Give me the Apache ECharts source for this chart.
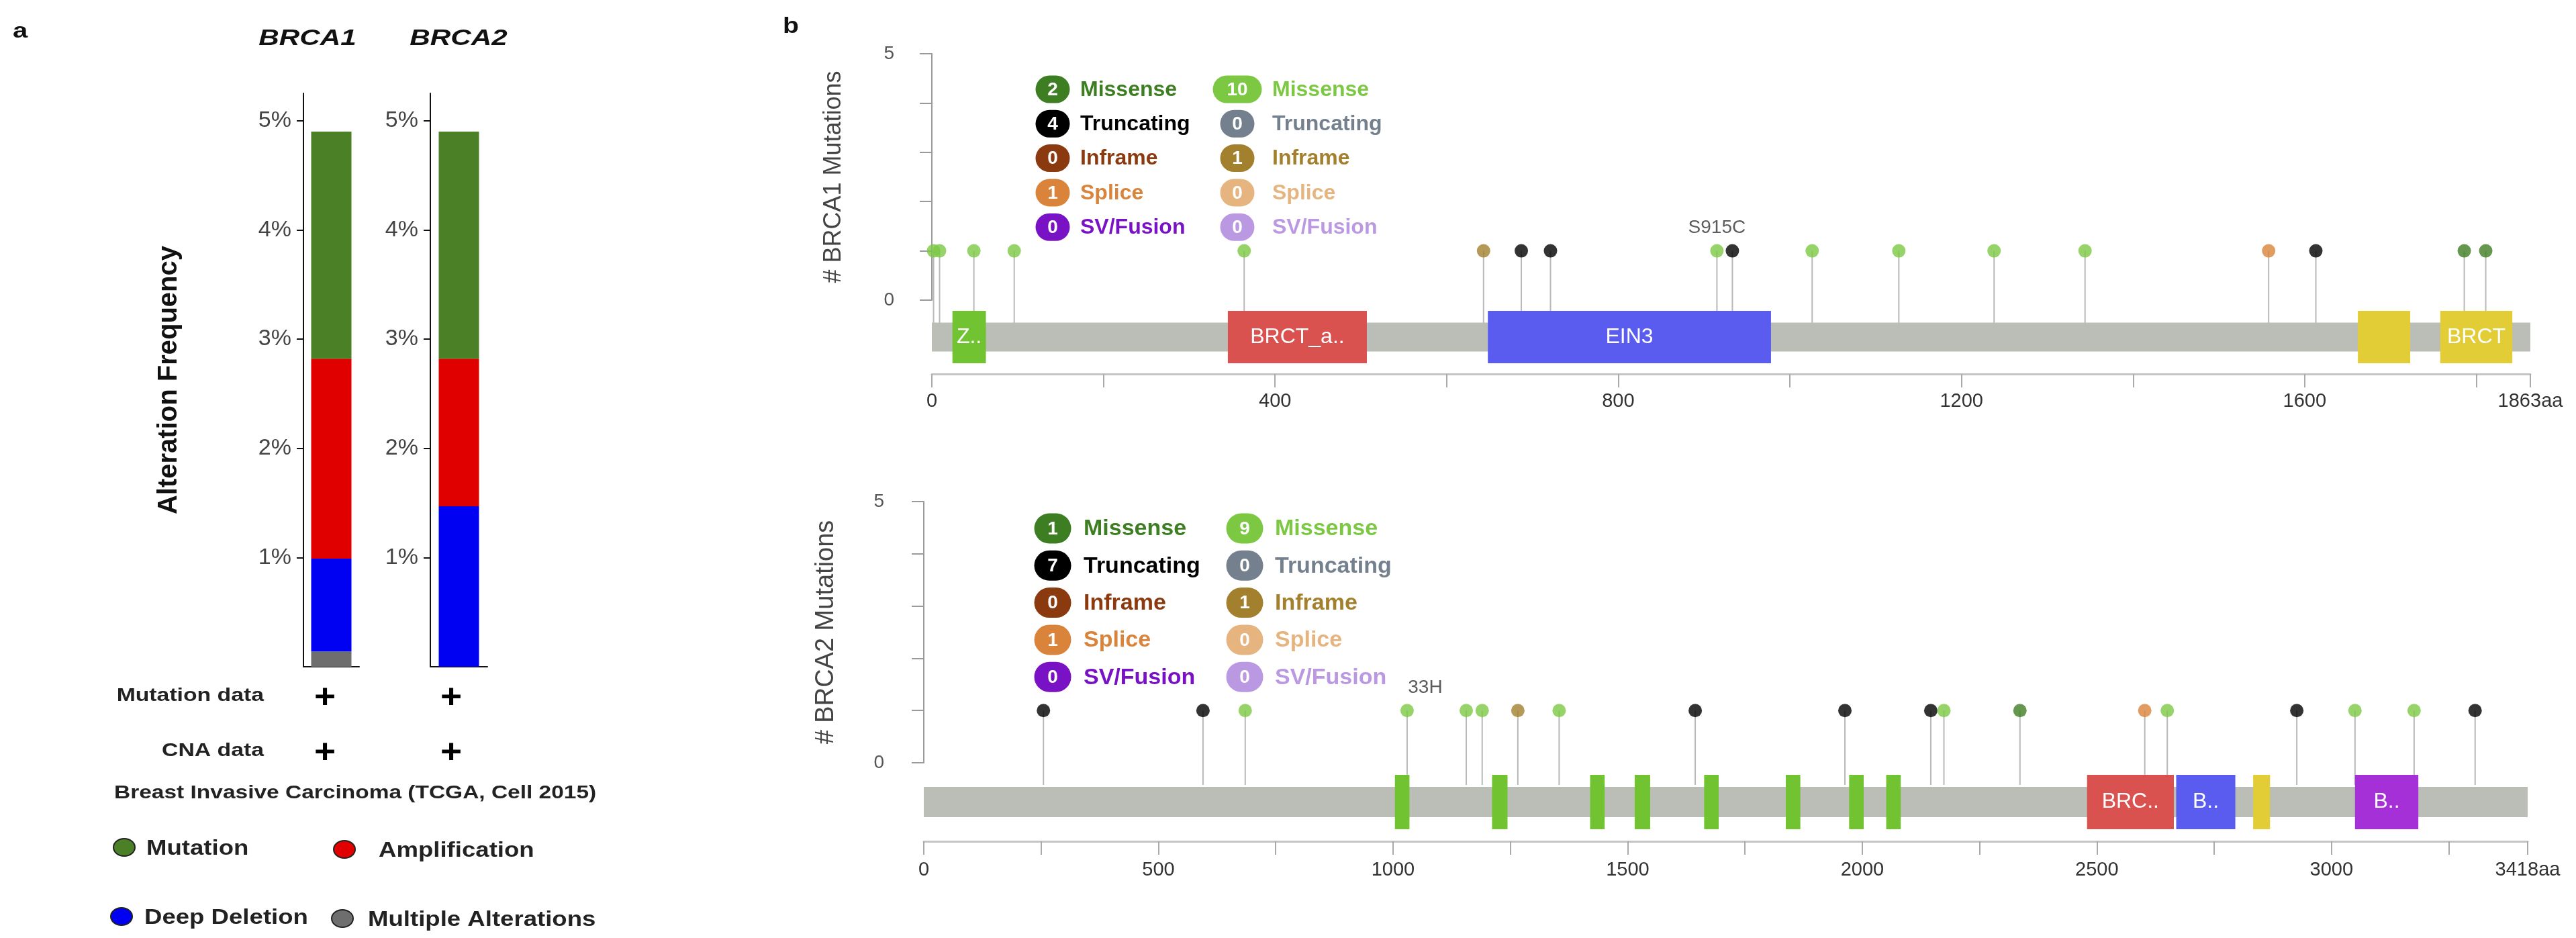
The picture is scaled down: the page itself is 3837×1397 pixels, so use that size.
<!DOCTYPE html>
<html><head><meta charset="utf-8">
<script src="https://cdn.jsdelivr.net/npm/echarts@6/dist/echarts.min.js"></script>
<style>html,body{margin:0;padding:0;background:#fff;overflow:hidden}#c{width:3837px;height:1397px}</style>
</head><body><div id="c"></div>
<script>
// ---------- Panel a data ----------
const genes = ['BRCA1', 'BRCA2'];
const multipleAlterations = [0.14, 0];
const deepDeletion = [0.85, 1.47];
const amplification = [1.83, 1.35];
const mutationFreq = [2.08, 2.08];
const freqTickValues = [1, 2, 3, 4, 5];
const rowLabels = ['Mutation data', 'CNA data'];
const studyName = 'Breast Invasive Carcinoma (TCGA, Cell 2015)';

// ---------- Panel b data ----------
const brca1Length = 1863;
const brca2Length = 3418;
// [position (aa), count, type]
const brca1Mutations = [
  [2, 1, 'missense_vus'], [9, 1, 'missense_vus'], [49, 1, 'missense_vus'], [96, 1, 'missense_vus'],
  [364, 1, 'missense_vus'], [643, 1, 'inframe_vus'], [687, 1, 'truncating'], [721, 1, 'truncating'],
  [915, 1, 'missense_vus'], [933, 1, 'truncating'], [1026, 1, 'missense_vus'], [1127, 1, 'missense_vus'],
  [1238, 1, 'missense_vus'], [1344, 1, 'missense_vus'], [1558, 1, 'splice'], [1613, 1, 'truncating'],
  [1786, 1, 'missense'], [1811, 1, 'missense']
];
const brca1Labels = { 915: 'S915C' };
const brca2Mutations = [
  [255, 1, 'truncating'], [595, 1, 'truncating'], [685, 1, 'missense_vus'], [1030, 1, 'missense_vus'],
  [1156, 1, 'missense_vus'], [1190, 1, 'missense_vus'], [1266, 1, 'inframe_vus'], [1354, 1, 'missense_vus'],
  [1644, 1, 'truncating'], [1963, 1, 'truncating'], [2146, 1, 'truncating'], [2174, 1, 'missense_vus'],
  [2336, 1, 'missense'], [2602, 1, 'splice'], [2650, 1, 'missense_vus'], [2926, 1, 'truncating'],
  [3050, 1, 'missense_vus'], [3176, 1, 'missense_vus'], [3306, 1, 'truncating']
];
const brca2Labels = { 1030: '33H' };
// [start, end, shown label, domain kind]
const brca1Domains = [
  [24, 63, 'Z..', 'ring'], [345, 507, 'BRCT_a..', 'brctAssoc'], [648, 978, 'EIN3', 'ein3'],
  [1662, 1723, '', 'brct'], [1758, 1842, 'BRCT', 'brct']
];
const brca2Domains = [
  [1004, 1035, '', 'repeat'], [1211, 1244, '', 'repeat'], [1420, 1451, '', 'repeat'], [1515, 1548, '', 'repeat'],
  [1663, 1694, '', 'repeat'], [1837, 1868, '', 'repeat'], [1972, 2003, '', 'repeat'], [2051, 2082, '', 'repeat'],
  [2479, 2664, 'BRC..', 'helical'], [2669, 2795, 'B..', 'ob1'], [2833, 2869, '', 'tower'], [3050, 3185, 'B..', 'ob3']
];
const legendKinds = ['missense', 'truncating', 'inframe', 'splice', 'fusion'];
const legendNames = ['Missense', 'Truncating', 'Inframe', 'Splice', 'SV/Fusion'];

// ---------- styles ----------
const FONT = '"Liberation Sans", Arial, Helvetica, sans-serif';
const driverColors = { missense: '#3E7E22', truncating: '#000000', inframe: '#8B3A10', splice: '#D9843A', fusion: '#7812C4' };
const vusColors = { missense: '#7CC843', truncating: '#74808D', inframe: '#A3802E', splice: '#E5B47F', fusion: '#BB98E2' };
const domainColors = { ring: '#72C331', brctAssoc: '#D9524F', ein3: '#5A5CF0', brct: '#E3CD37',
  repeat: '#72C331', helical: '#D9524F', ob1: '#5A5CF0', tower: '#E3CD37', ob3: '#A530D8' };
const colorOf = t => t.endsWith('_vus') ? vusColors[t.replace('_vus', '')] : driverColors[t];
const layerColors = ['#6E6E6E', '#0000F2', '#E00000', '#4B8027'];

const chart = echarts.init(document.getElementById('c'), null, { width: 3837, height: 1397 });

const grids = [], xAxes = [], yAxes = [], series = [], graphics = [];

// ---------- Panel a ----------
const aLayout = [{ left: 452, width: 83 }, { left: 641, width: 85 }];
const layers = [multipleAlterations, deepDeletion, amplification, mutationFreq];
const layerNames = ['Multiple Alterations', 'Deep Deletion', 'Amplification', 'Mutation'];
genes.forEach((g, gi) => {
  grids.push({ left: aLayout[gi].left, width: aLayout[gi].width, top: 139, height: 854, outerBoundsMode: 'none' });
  xAxes.push({ type: 'category', gridIndex: gi, data: [g], axisLine: { lineStyle: { color: '#111', width: 2 } },
    axisTick: { show: false }, axisLabel: { show: false } });
  yAxes.push({ type: 'value', gridIndex: gi, min: 0, max: 5.25,
    name: gi === 0 ? 'Alteration Frequency' : '', nameLocation: 'middle', nameGap: 180,
    nameTextStyle: { fontSize: 40, fontWeight: 'bold', color: '#111', fontFamily: FONT },
    axisLine: { show: true, lineStyle: { color: '#111', width: 2 } },
    axisTick: { show: true, length: 10, customValues: freqTickValues, lineStyle: { color: '#111', width: 2 } },
    axisLabel: { customValues: freqTickValues, formatter: v => v + '%', fontSize: 34, color: '#444', margin: 18, fontFamily: FONT },
    splitLine: { show: false } });
  layers.forEach((arr, li) => series.push({ type: 'bar', name: layerNames[li], xAxisIndex: gi, yAxisIndex: gi,
    stack: 'alt' + gi, data: [arr[gi]], barWidth: 60, itemStyle: { color: layerColors[li] }, silent: true }));
});
function txt(x, y, text, font, fill, align, sx) {
  graphics.push({ type: 'text', x, y, scaleX: sx || 1, silent: true,
    style: { text, font: font + ' ' + FONT, fill, align: align || 'left', verticalAlign: 'middle' } });
}
txt(30, 47, 'a', 'bold 32px', '#111', 'center', 1.25);
txt(458, 58, 'BRCA1', 'italic bold 33px', '#111', 'center', 1.28);
txt(683, 58, 'BRCA2', 'italic bold 33px', '#111', 'center', 1.28);
txt(393, 1037, rowLabels[0], 'bold 27px', '#222', 'right', 1.25);
txt(393, 1119, rowLabels[1], 'bold 27px', '#222', 'right', 1.25);
[484, 672].forEach(x => { txt(x, 1040, '+', 'bold 50px', '#000', 'center', 1.1); txt(x, 1122, '+', 'bold 50px', '#000', 'center', 1.1); });
txt(170, 1182, studyName, 'bold 27px', '#222', 'left', 1.24);
const aLegend = [
  { cx: 185, cy: 1262, tx: 218, name: 'Mutation', color: layerColors[3] },
  { cx: 513, cy: 1265, tx: 564, name: 'Amplification', color: layerColors[2] },
  { cx: 181, cy: 1365, tx: 215, name: 'Deep Deletion', color: layerColors[1] },
  { cx: 510, cy: 1368, tx: 548, name: 'Multiple Alterations', color: layerColors[0] }
];
aLegend.forEach(l => {
  graphics.push({ type: 'ellipse', silent: true, shape: { cx: l.cx, cy: l.cy, rx: 16, ry: 13 },
    style: { fill: l.color, stroke: '#222', lineWidth: 2 } });
  txt(l.tx, l.cy + 2, l.name, 'bold 31px', '#222', 'left', 1.18);
});

// ---------- Panel b ----------
txt(1178, 40, 'b', 'bold 34px', '#111', 'center', 1.15);
const panels = [
  { gene: 'BRCA1', length: brca1Length, muts: brca1Mutations, labels: brca1Labels, domains: brca1Domains,
    tickStep: 200, labelStep: 400,
    L: { left: 1388, right: 68, top: 80, plotH: 367, trackH: 110, axisOffset: 30, nameGap: 98, nameSize: 36, yMargin: 26, xMargin: 26,
      barH: 43, domH: 78, stemDrop: 34,
      lg: { x1: 1568, t1: 1609, x2: 1843, t2: 1895, y0: 133, dy: 51.3, bh: 41, font: 32 } } },
  { gene: 'BRCA2', length: brca2Length, muts: brca2Mutations, labels: brca2Labels, domains: brca2Domains,
    tickStep: 250, labelStep: 500,
    L: { left: 1376, right: 72, top: 747, plotH: 389, trackH: 117, axisOffset: 29, nameGap: 97, nameSize: 38, yMargin: 30, xMargin: 28,
      barH: 45, domH: 81, stemDrop: 33,
      lg: { x1: 1568, t1: 1614, x2: 1854, t2: 1899, y0: 787, dy: 55.3, bh: 45, font: 34 } } }
];
panels.forEach(p => {
  const L = p.L;
  const gPlot = grids.length, gTrack = grids.length + 1;
  grids.push({ left: L.left, right: L.right, top: L.top, height: L.plotH, outerBoundsMode: 'none' });
  grids.push({ left: L.left, right: L.right, top: L.top + L.plotH, height: L.trackH, outerBoundsMode: 'none' });
  xAxes.push({ type: 'value', gridIndex: gPlot, min: 0, max: p.length, show: false });
  xAxes.push({ type: 'value', gridIndex: gTrack, min: 0, max: p.length, interval: p.tickStep,
    axisLine: { show: true, lineStyle: { color: '#C4C4C4', width: 3 } },
    axisTick: { show: true, length: 20, lineStyle: { color: '#AAAAAA', width: 2 } },
    axisLabel: { showMinLabel: true, showMaxLabel: true, fontSize: 29, color: '#333', margin: L.xMargin, fontFamily: FONT,
      formatter: v => v === p.length ? p.length + 'aa' : (v % p.labelStep === 0 ? String(v) : '') },
    splitLine: { show: false } });
  yAxes.push({ type: 'value', gridIndex: gPlot, min: 0, max: 5, interval: 1, offset: L.axisOffset,
    name: '# ' + p.gene + ' Mutations', nameLocation: 'middle', nameGap: L.nameGap,
    nameTextStyle: { fontSize: L.nameSize, color: '#444', fontFamily: FONT },
    axisLine: { show: true, lineStyle: { color: '#9A9A9A', width: 2 } },
    axisTick: { show: true, length: 18, lineStyle: { color: '#9A9A9A', width: 2 } },
    axisLabel: { fontSize: 28, color: '#555', margin: L.yMargin, fontFamily: FONT,
      formatter: v => (v === 0 || v === 5) ? String(v) : '' },
    splitLine: { show: false } });
  yAxes.push({ type: 'value', gridIndex: gTrack, min: 0, max: 1, show: false });
  const xi = xAxes.length - 2, yi = yAxes.length - 2;

  // stems
  series.push({ type: 'custom', xAxisIndex: xi, yAxisIndex: yi, z: 1, silent: true,
    data: p.muts.map(m => [m[0], m[1]]),
    renderItem: (params, api) => {
      const top = api.coord([api.value(0), api.value(1)]);
      const base = api.coord([api.value(0), 0]);
      return { type: 'line', shape: { x1: top[0], y1: top[1], x2: top[0], y2: base[1] + L.stemDrop },
        style: { stroke: '#B8B8B8', lineWidth: 2 } };
    } });
  // heads
  series.push({ type: 'scatter', xAxisIndex: xi, yAxisIndex: yi, z: 4, symbolSize: 20, silent: true,
    data: p.muts.map(m => ({ value: [m[0], m[1]], itemStyle: { color: colorOf(m[2]) },
      label: p.labels[m[0]] ? { show: true, formatter: p.labels[m[0]], position: 'top', distance: 10,
        offset: p.gene === 'BRCA2' ? [27, 0] : [0, 0], fontSize: 28, color: '#333', fontFamily: FONT } : { show: false } })) });
  // backbone
  series.push({ type: 'custom', xAxisIndex: xi + 1, yAxisIndex: yi + 1, z: 2, silent: true,
    data: [[0, p.length]],
    renderItem: (params, api) => {
      const a = api.coord([api.value(0), 0.5]), b = api.coord([api.value(1), 0.5]);
      return { type: 'rect', shape: { x: a[0], y: a[1] - L.barH / 2, width: b[0] - a[0], height: L.barH },
        style: { fill: '#BBBEB6' } };
    } });
  // domains
  series.push({ type: 'custom', xAxisIndex: xi + 1, yAxisIndex: yi + 1, z: 3, silent: true,
    data: p.domains.map(d => [d[0], d[1]]),
    renderItem: (params, api) => {
      const d = p.domains[params.dataIndex];
      const a = api.coord([api.value(0), 0.5]), b = api.coord([api.value(1), 0.5]);
      const children = [{ type: 'rect', shape: { x: a[0], y: a[1] - L.domH / 2, width: b[0] - a[0], height: L.domH },
        style: { fill: domainColors[d[3]] } }];
      if (d[2]) children.push({ type: 'text', x: (a[0] + b[0]) / 2, y: a[1],
        style: { text: d[2], fill: '#fff', font: '32px ' + FONT, align: 'center', verticalAlign: 'middle' } });
      return { type: 'group', children };
    } });

  // legend (counts derived from data)
  const lg = L.lg;
  legendKinds.forEach((k, i) => {
    const cy = lg.y0 + i * lg.dy;
    [[k, lg.x1, lg.t1], [k + '_vus', lg.x2, lg.t2]].forEach(([t, cx, tx]) => {
      const n = p.muts.filter(m => m[2] === t).reduce((s, m) => s + m[1], 0);
      const col = colorOf(t);
      const w = String(n).length > 1 ? lg.bh + 32 : lg.bh + 10;
      graphics.push({ type: 'rect', silent: true, shape: { x: cx - w / 2, y: cy - lg.bh / 2, width: w, height: lg.bh, r: lg.bh / 2 },
        style: { fill: col } });
      txt(cx, cy + 1, String(n), 'bold 28px', '#fff', 'center');
      txt(tx, cy + 1, legendNames[i], 'bold ' + lg.font + 'px', col, 'left');
    });
  });
});

chart.setOption({
  animation: false,
  backgroundColor: '#fff',
  textStyle: { fontFamily: FONT },
  grid: grids, xAxis: xAxes, yAxis: yAxes, series,
  graphic: { elements: graphics }
});
</script></body></html>
